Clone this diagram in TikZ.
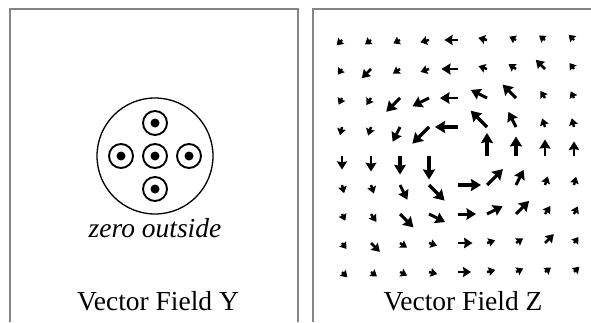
\documentclass[tikz,border=0pt]{standalone}
\usepackage{fontspec}
\setmainfont{Liberation Serif}
\usetikzlibrary{arrows.meta}
\definecolor{ink}{HTML}{000000}
\definecolor{frame}{HTML}{858585}

\begin{document}
\begin{tikzpicture}[x=1pt,y=-1pt,
  panel/.style={frame,line width=2pt},
  fieldname/.style={text=ink,font=\fontsize{27.5}{30}\selectfont,anchor=base}]
  \useasboundingbox (0,0) rectangle (591,322);

  % Panel frames (open at the bottom)
  \draw[panel] (10,322)--(10,9)--(298,9)--(298,322);
  \draw[panel] (313,322)--(313,9)--(591,9);

  % Vector Field Y: five tubes pointing out of the page
  \draw[ink,line width=1.3pt] (155,156) circle[radius=58];
  \foreach \cx/\cy in {155/123,121/156,155/156,189/156,155/189}{
    \draw[ink,line width=1.9pt] (\cx,\cy) circle[radius=12];
    \fill[ink] (\cx,\cy) circle[radius=4.5];
  }
  \node[fieldname,font=\fontsize{27.5}{30}\selectfont\itshape] (zero) at (155,237) {zero outside};
  \node[fieldname] (nameY) at (158,310) {Vector Field Y};

  % Vector Field Z: swirl around grid point (4,4), arrows start at the grid
  \foreach \i/\j/\len in {
      0/0/6,1/0/6,2/0/6,3/0/7.5,4/0/12,5/0/7.5,6/0/6,7/0/6,8/0/6,
      0/1/5.5,1/1/11.5,2/1/7,3/1/7.5,4/1/15,5/1/7.5,6/1/7.5,7/1/11.5,8/1/6,
      0/2/6,1/2/7,2/2/18,3/2/17,4/2/16.5,5/2/16.5,6/2/17.5,7/2/7,8/2/6,
      0/3/7,1/3/7.5,2/3/15,3/3/22,4/3/21.5,5/3/21.5,6/3/15.5,7/3/7.5,8/3/7.5,
      0/4/12,1/4/14,2/4/17,3/4/22,5/4/21.5,6/4/18,7/4/15,8/4/13,
      0/5/7,1/5/7.5,2/5/15,3/5/20.5,4/5/21.5,5/5/21,6/5/15.5,7/5/7.5,8/5/7,
      0/6/6,1/6/8,2/6/17.5,3/6/16.5,4/6/16.5,5/6/16,6/6/17,7/6/8,8/6/7,
      0/7/6,1/7/11,2/7/7,3/7/7,4/7/13,5/7/7,6/7/7,7/7/11,8/7/6,
      0/8/6,1/8/6,2/8/6.5,3/8/7,4/8/11.5,5/8/7,6/8/6.5,7/8/6,8/8/6}{
    \pgfmathsetmacro\dx{\i-4}
    \pgfmathsetmacro\dy{\j-4}
    \pgfmathsetmacro\rr{sqrt((\dx)*(\dx)+(\dy)*(\dy))}
    \pgfmathsetmacro\ux{(\len+1.5)*(\dy)/\rr}
    \pgfmathsetmacro\uy{-(\len+1.5)*(\dx)/\rr}
    \pgfmathsetmacro\hl{min(10,4.5+0.3*\len)}
    \pgfmathsetmacro\hw{min(12,6.5+0.3*\len)}
    \pgfmathsetmacro\lw{min(3.2,2+0.06*\len)}
    \draw[ink,line width=\lw pt,-{Stealth[length=\hl pt,width=\hw pt,inset=0.1*\hl pt]}]
      (342+29*\i,40+29*\j) -- ++(\ux,\uy);
  }
  \node[fieldname] (nameZ) at (463,310) {Vector Field Z};
\end{tikzpicture}
\end{document}
